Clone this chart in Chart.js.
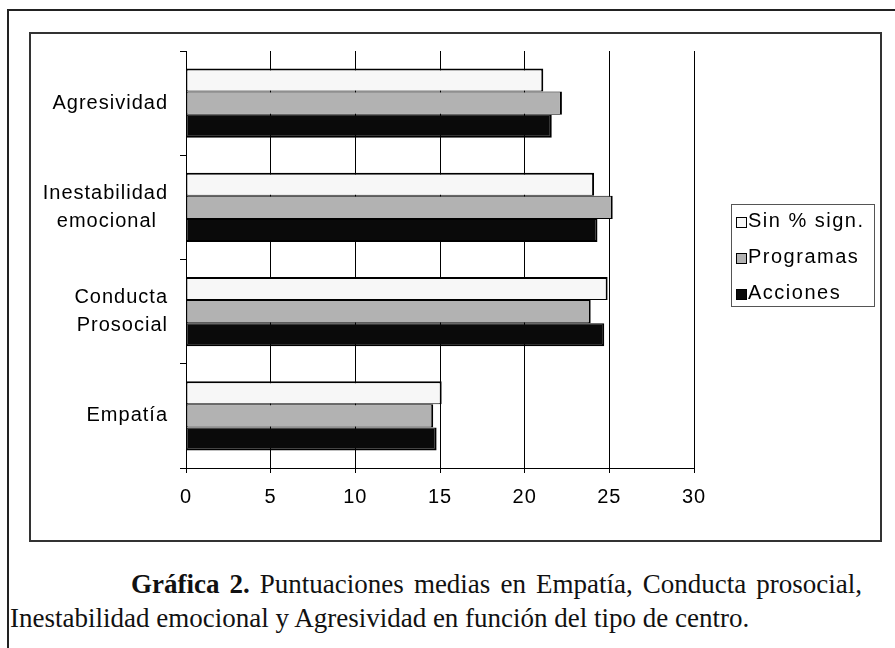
<!DOCTYPE html>
<html>
<head>
<meta charset="utf-8">
<script src="https://cdn.jsdelivr.net/npm/chart.js@4.4.1/dist/chart.umd.min.js"></script>
<style>
  html, body { margin: 0; padding: 0; background: #fff; }
  body { width: 895px; height: 648px; position: relative; overflow: hidden; }
  #frame { position: absolute; left: 7px; top: 9px; width: 900px; height: 660px; border: 2px solid #222; }
  #chartBox { position: absolute; left: 29px; top: 32px; width: 849px; height: 506px; border: 2px solid #333; background: #fff; }
  #chartBox canvas { display: block; }
  .caption { position: absolute; font-family: "Liberation Serif", "Times New Roman", serif; font-size: 27px; line-height: 34px; color: #111; white-space: nowrap; }
  #cap1 { left: 131px; top: 567px; width: 731px; text-align: justify; text-align-last: justify; white-space: normal; }
  #cap2 { left: 10px; top: 601px; }
</style>
</head>
<body>
<div id="frame"></div>
<div id="chartBox"><canvas id="barChart" width="849" height="506"></canvas></div>
<div class="caption" id="cap1"><b>Gráfica 2.</b> Puntuaciones medias en Empatía, Conducta prosocial,</div>
<div class="caption" id="cap2">Inestabilidad emocional y Agresividad en función del tipo de centro.</div>

<script>
// Categories, top to bottom (en space keeps the second line roughly centred)
const categories = ['Agresividad', ['Inestabilidad', 'emocional\u2002'], ['Conducta', 'Prosocial'], 'Empatía'];

// Mean scores per type of centre
const sinSign = [21.1, 24.1, 24.9, 15.1];
const programas = [22.2, 25.2, 23.9, 14.6];
const acciones = [21.6, 24.3, 24.7, 14.8];

const xTicks = [0, 5, 10, 15, 20, 25, 30];

const FONT = '"Liberation Sans", Arial, sans-serif';

// Excel-like wide letter spacing for all chart text
const letterSpacing = {
    id: 'letterSpacing',
    beforeDraw(chart) {
        chart.ctx.letterSpacing = '1px';
    }
};

// Framed legend drawn at a fixed spot to the right of the plot
const boxLegend = {
    id: 'boxLegend',
    afterDraw(chart, args, opts) {
        const ctx = chart.ctx;
        const n = chart.data.datasets.length;
        ctx.save();
        ctx.letterSpacing = '1.5px';
        ctx.strokeStyle = '#555';
        ctx.lineWidth = 1;
        ctx.strokeRect(opts.x + 0.5, opts.y + 0.5, opts.width, opts.height);
        ctx.font = '20px ' + FONT;
        ctx.textBaseline = 'middle';
        ctx.textAlign = 'left';
        chart.data.datasets.forEach((ds, i) => {
            const cy = opts.y + opts.height / 2 + (i - (n - 1) / 2) * opts.rowGap + 2;
            const bottom = Math.round(cy + 7);
            ctx.fillStyle = ds.backgroundColor;
            ctx.fillRect(opts.x + 5, bottom - 11, 11, 11);
            ctx.strokeStyle = '#000';
            ctx.strokeRect(opts.x + 5.5, bottom - 10.5, 10, 10);
            ctx.fillStyle = '#000';
            ctx.fillText(ds.label, opts.x + 17, cy);
        });
        ctx.restore();
    }
};

const ctx = document.getElementById('barChart').getContext('2d');
const chart = new Chart(ctx, {
    type: 'bar',
    data: {
        labels: categories,
        datasets: [
            {
                label: 'Sin % sign.',
                data: sinSign,
                backgroundColor: '#f7f7f7',
                borderColor: '#000',
                borderWidth: { top: 2, right: 2, bottom: 1, left: 1 }
            },
            {
                label: 'Programas',
                data: programas,
                backgroundColor: '#b2b2b2',
                borderColor: '#000',
                borderWidth: { top: 1, right: 2, bottom: 1, left: 1 }
            },
            {
                label: 'Acciones',
                data: acciones,
                backgroundColor: '#0a0a0a',
                borderColor: '#000',
                borderWidth: { top: 1, right: 2, bottom: 2, left: 1 }
            }
        ]
    },
    options: {
        indexAxis: 'y',
        responsive: false,
        animation: false,
        devicePixelRatio: 1,
        layout: {
            padding: { top: 17, right: 186, bottom: 0, left: 0 }
        },
        datasets: {
            bar: {
                categoryPercentage: 0.662,
                barPercentage: 1.0,
                borderSkipped: false
            }
        },
        scales: {
            x: {
                min: 0,
                max: 30,
                afterBuildTicks: (scale) => {
                    scale.ticks = xTicks.map(v => ({ value: v }));
                },
                afterFit: (scale) => { scale.height = 72; },
                grid: {
                    color: '#000',
                    lineWidth: 1,
                    tickLength: 5,
                    drawTicks: true
                },
                border: { display: true, color: '#000', width: 1 },
                ticks: {
                    color: '#000',
                    padding: 12,
                    font: { family: FONT, size: 20, lineHeight: 1.2 }
                }
            },
            y: {
                // fixed axis width, and no extra room for the outer labels
                afterFit: (scale) => {
                    scale.width = 155;
                    scale.paddingTop = 0;
                    scale.paddingBottom = 0;
                },
                grid: {
                    drawOnChartArea: false,
                    drawTicks: true,
                    tickLength: 6,
                    color: '#000',
                    offset: true
                },
                border: { display: true, color: '#000', width: 1 },
                ticks: {
                    color: '#000',
                    padding: 12,
                    font: { family: FONT, size: 20, lineHeight: 1.4 }
                }
            }
        },
        plugins: {
            legend: { display: false },
            tooltip: { enabled: false },
            boxLegend: { x: 700, y: 170, width: 143, height: 102, rowGap: 36 }
        }
    },
    plugins: [letterSpacing, boxLegend]
});
</script>
</body>
</html>
